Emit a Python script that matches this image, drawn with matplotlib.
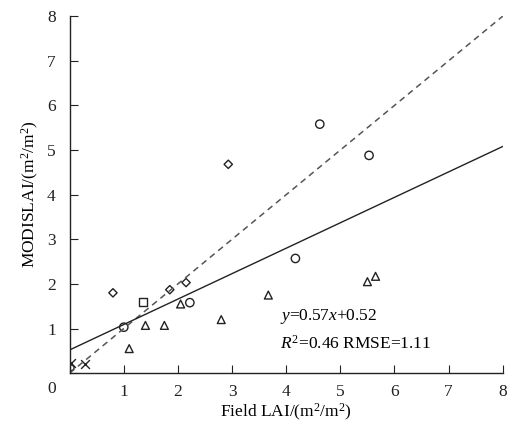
import numpy as np
import matplotlib.pyplot as plt

plt.rcParams['font.family'] = ['Liberation Serif', 'DejaVu Serif']
plt.rcParams['mathtext.fontset'] = 'custom'
plt.rcParams['mathtext.rm'] = 'Liberation Serif'
plt.rcParams['mathtext.it'] = 'Liberation Serif:italic'

# Dati
circ_x = [4.62, 5.53, 4.17, 2.22, 1.0]
circ_y = [5.58, 4.88, 2.57, 1.58, 1.03]
dia_x = [0.8, 2.93, 1.85, 2.15]
dia_y = [1.8, 4.68, 1.87, 2.03]
tri_x = [1.1, 1.4, 1.75, 2.05, 2.8, 3.67, 5.5, 5.65]
tri_y = [0.55, 1.07, 1.07, 1.55, 1.2, 1.75, 2.05, 2.17]
sq_x = [1.35]
sq_y = [1.6]
cross_x = [0.03, 0.28]
cross_y = [0.22, 0.2]
small_x = [0.03]
small_y = [0.12]

slope = 0.57
inter = 0.52

fig = plt.figure(figsize=(5.12, 4.25), dpi=100)
ax = fig.add_axes([0.136, 0.122, 0.846, 0.84])

xx = np.array([0, 8])
ax.plot(xx, xx, '--', color='#555555', linewidth=1.1, dashes=(4, 3))
ax.plot(xx, slope * xx + inter, '-', color='#222222', linewidth=1.0)

mk = dict(facecolor='none', edgecolor='#222222', linewidths=1.0)
ax.scatter(circ_x, circ_y, marker='o', s=36, **mk)
ax.scatter(dia_x, dia_y, marker='D', s=18, **mk)
ax.scatter(tri_x, tri_y, marker='^', s=32, **mk)
ax.scatter(sq_x, sq_y, marker='s', s=36, **mk)
ax.scatter(cross_x, cross_y, marker='x', s=40, color='#222222', linewidths=1.0)
ax.scatter(small_x, small_y, marker='o', s=16, **mk)

ax.text(3.89, 1.26, r'$y$=0.57$x$+0.52', fontsize=12.5, ha='left', va='center')
ax.text(3.89, 0.67, r'$R^2$=0.46 RMSE=1.11', fontsize=12.5, ha='left', va='center')

ax.set_xlim(0, 8)
ax.set_ylim(0, 8)
ax.set_xticks(range(0, 9))
ax.set_xticklabels([''] + [str(i) for i in range(1, 9)])
ax.set_yticks(range(0, 9))
ax.set_yticklabels([''] + [str(i) for i in range(1, 9)])
ax.tick_params(direction='in', length=6, labelsize=12.5, colors='#222222')
ax.tick_params(axis='y', pad=10)
ax.tick_params(axis='x', pad=8)
ax.text(-0.33, -0.36, '0', fontsize=12.5, ha='center', va='center', color='#222222')
for s in ['top', 'right']:
    ax.spines[s].set_visible(False)
for s in ['left', 'bottom']:
    ax.spines[s].set_linewidth(1.0)
    ax.spines[s].set_color('#222222')

ax.set_xlabel('Field LAI/(m$^2$/m$^2$)', fontsize=12.5, labelpad=1)
ax.set_ylabel('MODISLAI/(m$^2$/m$^2$)', fontsize=12.5, labelpad=4)

fig.savefig('out.png', dpi=100)
